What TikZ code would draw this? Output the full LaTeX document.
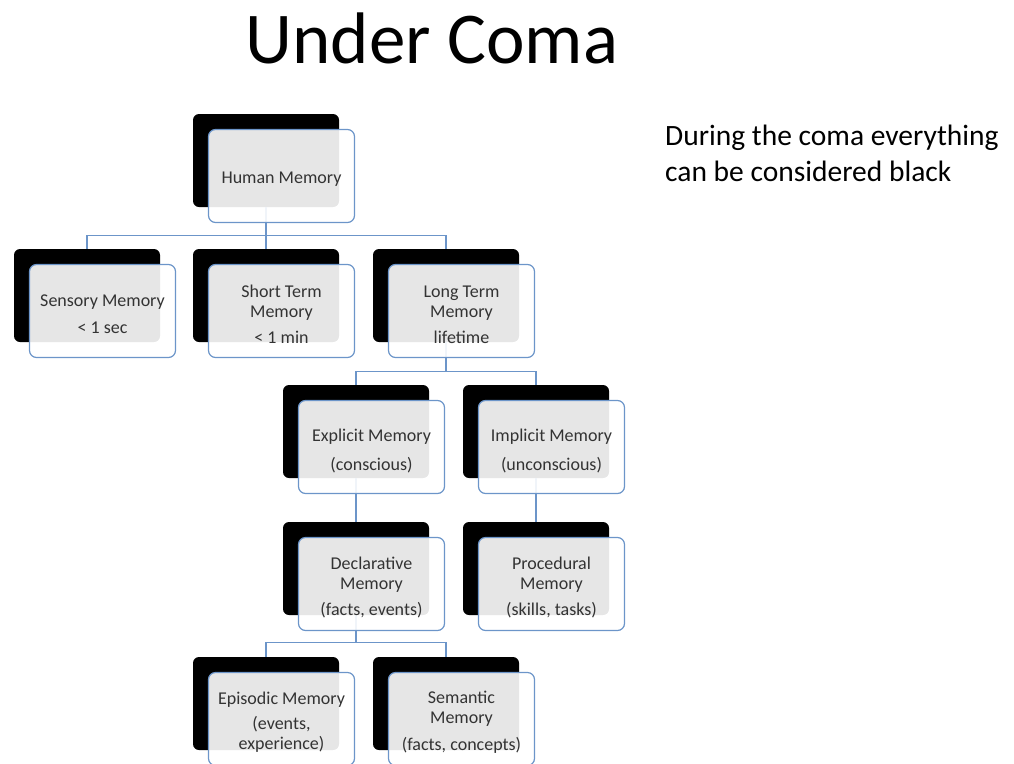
\documentclass[tikz,border=0pt]{standalone}
\usepackage{fontspec}
\setmainfont{Carlito}
\definecolor{linkblue}{HTML}{6C95C9}
\definecolor{txtgray}{HTML}{333333}
\begin{document}
\begin{tikzpicture}[x=1pt,y=-1pt,
  backbox/.style={fill=black,rounded corners=6pt,minimum width=146pt,minimum height=93pt,inner sep=0pt},
  frontbox/.style={draw=linkblue,line width=1.2pt,fill=white,fill opacity=0.9,rounded corners=7pt,
    minimum width=146pt,minimum height=93pt,inner sep=0pt},
  boxtext/.style={align=center,text=txtgray,inner sep=0pt,yshift=-3.5pt,font=\fontsize{18}{20}\selectfont},
  link/.style={draw=linkblue,line width=1.2pt}]
\useasboundingbox (0,0) rectangle (1014,763);
% title and side text
\node[anchor=base,font=\fontsize{73}{80}\selectfont] (title) at (432,63) {Under Coma};
\node[anchor=base west,font=\fontsize{29.5}{36}\selectfont,inner sep=0pt] (side1) at (665,145) {During the coma everything};
\node[anchor=base west,font=\fontsize{29.5}{36}\selectfont,inner sep=0pt] (side2) at (665,181) {can be considered black};
% back boxes
\node[backbox] (hmb) at (266,160.5) {};
\node[backbox] (smb) at (87,295.5) {};
\node[backbox] (stb) at (266,295.5) {};
\node[backbox] (ltb) at (446,295.5) {};
\node[backbox] (exb) at (356,431.5) {};
\node[backbox] (imb) at (536,431.5) {};
\node[backbox] (deb) at (356,568.5) {};
\node[backbox] (prb) at (536,568.5) {};
\node[backbox] (epb) at (266,703.5) {};
\node[backbox] (seb) at (446,703.5) {};
% connectors
\coordinate (j1) at (266,235.5);
\coordinate (j2) at (446,371.5);
\coordinate (j3) at (356,642.5);
\draw[link] (hmb.south) -- (j1) -| (smb.north);
\draw[link] (j1) -| (ltb.north);
\draw[link] (j1) -- (stb.north);
\draw[link] (ltb.south) -- (j2) -| (exb.north);
\draw[link] (j2) -| (imb.north);
\draw[link] (exb.south) -- (deb.north);
\draw[link] (imb.south) -- (prb.north);
\draw[link] (deb.south) -- (j3) -| (epb.north);
\draw[link] (j3) -| (seb.north);
% front boxes
\node[frontbox] (hm) at (281.5,176) {};
\node[frontbox] (sm) at (102.5,311) {};
\node[frontbox] (st) at (281.5,311) {};
\node[frontbox] (lt) at (461.5,311) {};
\node[frontbox] (ex) at (371.5,447) {};
\node[frontbox] (im) at (551.5,447) {};
\node[frontbox] (de) at (371.5,584) {};
\node[frontbox] (pr) at (551.5,584) {};
\node[frontbox] (ep) at (281.5,719) {};
\node[frontbox] (se) at (461.5,719) {};
% box texts
\node[boxtext] (hmt) at (hm.center) {Human Memory};
\node[boxtext] (smt) at (sm.center) {Sensory Memory\\[7pt]< 1 sec};
\node[boxtext] (stt) at (st.center) {Short Term\\Memory\\[6pt]< 1 min};
\node[boxtext] (ltt) at (lt.center) {Long Term\\Memory\\[6pt]lifetime};
\node[boxtext] (ext) at (ex.center) {Explicit Memory\\[9pt](conscious)};
\node[boxtext] (imt) at (im.center) {Implicit Memory\\[9pt](unconscious)};
\node[boxtext] (det) at (de.center) {Declarative\\Memory\\[6pt](facts, events)};
\node[boxtext] (prt) at (pr.center) {Procedural\\Memory\\[6pt](skills, tasks)};
\node[boxtext] (ept) at (ep.center) {Episodic Memory\\[5pt](events,\\experience)};
\node[boxtext] (set) at (se.center) {Semantic\\Memory\\[7pt](facts, concepts)};
\end{tikzpicture}
\end{document}
